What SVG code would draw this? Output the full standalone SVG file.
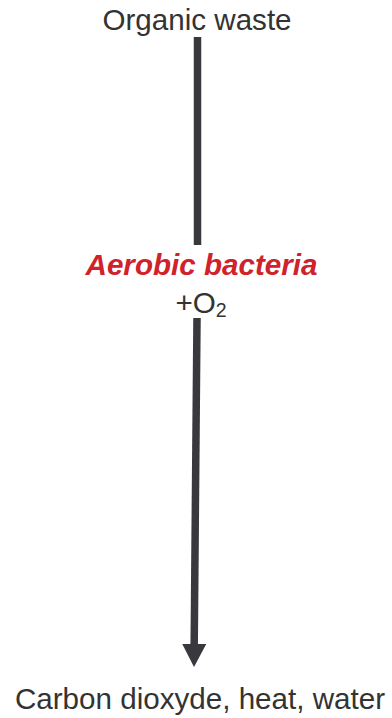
<svg xmlns="http://www.w3.org/2000/svg" width="392" height="718" viewBox="0 0 392 718">
  <style>
    .lbl { font-family: "Liberation Sans", Arial, sans-serif; font-size: 29.6px; fill: #333333; text-anchor: middle; }
    .red { font-family: "Liberation Sans", Arial, sans-serif; font-size: 29.6px; font-weight: bold; font-style: italic; fill: #d0222a; text-anchor: middle; }
    .conn { stroke: #38383d; stroke-width: 7.5; fill: none; }
  </style>
  <defs>
    <marker id="arrow" markerUnits="userSpaceOnUse" markerWidth="24" markerHeight="24" viewBox="0 0 24 24" refX="0" refY="12" orient="auto">
      <path d="M0,0 L23,12 L0,24 Z" fill="#38383d"/>
    </marker>
  </defs>
  <rect width="392" height="718" fill="#ffffff"/>
  <g id="connectors">
    <line class="conn" x1="197.5" y1="37" x2="197.5" y2="245"/>
    <line class="conn" x1="197" y1="318" x2="194.2" y2="644" marker-end="url(#arrow)"/>
  </g>
  <g id="organic-waste">
    <text class="lbl" x="197" y="30">Organic waste</text>
  </g>
  <g id="aerobic-bacteria">
    <text class="red" x="201.5" y="275">Aerobic bacteria</text>
    <text class="lbl" x="201" y="313">+O<tspan font-size="19.5" dy="4">2</tspan></text>
  </g>
  <g id="products">
    <text class="lbl" x="200" y="709">Carbon dioxyde, heat, water</text>
  </g>
</svg>
